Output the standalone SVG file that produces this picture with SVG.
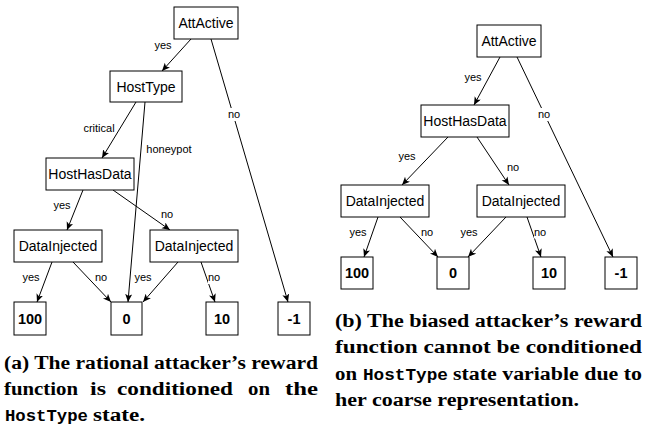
<svg xmlns="http://www.w3.org/2000/svg" width="645" height="431" viewBox="0 0 645 431">
  <style>
    .box { fill: #ffffff; stroke: #000000; stroke-width: 1; }
    .nt { font-family: "Liberation Sans", Arial, sans-serif; font-size: 14px; fill: #000; text-anchor: middle; }
    .lt { font-family: "Liberation Sans", Arial, sans-serif; font-size: 14.5px; font-weight: bold; fill: #000; text-anchor: middle; }
    .edge { stroke: #000; stroke-width: 1; fill: none; marker-end: url(#arrow); }
    .el { font-family: "Liberation Sans", Arial, sans-serif; font-size: 11px; fill: #000; text-anchor: middle; }
    .bg { fill: #ffffff; }
    .cap { font-family: "Liberation Serif", "Times New Roman", serif; font-size: 18.5px; font-weight: bold; fill: #000; }
    .mono { font-family: "Liberation Mono", "Courier New", monospace; font-size: 17px; font-weight: bold; fill: #000; }
  </style>
  <defs>
    <marker id="arrow" markerUnits="userSpaceOnUse" markerWidth="9" markerHeight="8" refX="8" refY="3.5" orient="auto">
      <path d="M0,0 L8,3.5 L0,7 L2,3.5 Z" fill="#000"/>
    </marker>
  </defs>
  <rect width="645" height="431" fill="#ffffff"/>

  <!-- (a) rational attacker tree: edges -->
  <g id="edges-a">
    <line class="edge" x1="191" y1="39" x2="162" y2="71"/>
    <line class="edge" x1="211" y1="39" x2="288" y2="302"/>
    <line class="edge" x1="136" y1="102" x2="102" y2="158"/>
    <line class="edge" x1="145" y1="102" x2="128" y2="302"/>
    <line class="edge" x1="83" y1="190" x2="67" y2="230"/>
    <line class="edge" x1="113" y1="190" x2="170" y2="230"/>
    <line class="edge" x1="52" y1="262" x2="37" y2="302"/>
    <line class="edge" x1="73" y1="262" x2="111" y2="302"/>
    <line class="edge" x1="178" y1="262" x2="143" y2="302"/>
    <line class="edge" x1="201" y1="262" x2="215" y2="302"/>
    <text class="el" x="163" y="48.5">yes</text>
    <rect class="bg" x="227" y="108" width="14" height="13"/>
    <text class="el" x="234" y="118">no</text>
    <text class="el" x="99" y="131.5">critical</text>
    <text class="el" x="169" y="152.5">honeypot</text>
    <text class="el" x="62" y="208.5">yes</text>
    <text class="el" x="167" y="218">no</text>
    <text class="el" x="31" y="281">yes</text>
    <text class="el" x="101" y="281">no</text>
    <text class="el" x="143" y="281">yes</text>
    <rect class="bg" x="208" y="271" width="13" height="13"/>
    <text class="el" x="214" y="281">no</text>
  </g>

  <!-- (a) nodes -->
  <g id="a-attactive"><rect class="box" x="174" y="7" width="64" height="32"/><text class="nt" x="206" y="28">AttActive</text></g>
  <g id="a-hosttype"><rect class="box" x="110" y="71" width="72" height="31"/><text class="nt" x="146" y="91.5">HostType</text></g>
  <g id="a-hosthasdata"><rect class="box" x="46" y="158" width="88" height="32"/><text class="nt" x="90" y="179">HostHasData</text></g>
  <g id="a-datainjected-1"><rect class="box" x="14" y="230" width="88" height="32"/><text class="nt" x="58" y="251">DataInjected</text></g>
  <g id="a-datainjected-2"><rect class="box" x="150" y="230" width="88" height="32"/><text class="nt" x="194" y="251">DataInjected</text></g>
  <g id="a-r100"><rect class="box" x="14" y="302" width="32" height="33"/><text class="lt" x="30" y="323.7">100</text></g>
  <g id="a-r0"><rect class="box" x="111" y="302" width="31" height="33"/><text class="lt" x="126.5" y="323.7">0</text></g>
  <g id="a-r10"><rect class="box" x="206" y="302" width="32" height="33"/><text class="lt" x="222" y="323.7">10</text></g>
  <g id="a-rneg1"><rect class="box" x="278" y="302" width="32" height="33"/><text class="lt" x="294" y="323.7">-1</text></g>

  <!-- (b) biased attacker tree: edges -->
  <g id="edges-b">
    <line class="edge" x1="500" y1="57" x2="474" y2="105"/>
    <line class="edge" x1="517" y1="57" x2="613" y2="257"/>
    <line class="edge" x1="448" y1="137" x2="402" y2="185"/>
    <line class="edge" x1="477" y1="137" x2="509" y2="185"/>
    <line class="edge" x1="378" y1="217" x2="364" y2="257"/>
    <line class="edge" x1="400" y1="217" x2="438" y2="257"/>
    <line class="edge" x1="506" y1="217" x2="468" y2="257"/>
    <line class="edge" x1="527" y1="217" x2="541" y2="257"/>
    <text class="el" x="473" y="81">yes</text>
    <rect class="bg" x="537" y="108" width="14" height="13"/>
    <text class="el" x="544" y="118">no</text>
    <text class="el" x="407" y="159.5">yes</text>
    <text class="el" x="513" y="170.5">no</text>
    <text class="el" x="358" y="235.5">yes</text>
    <text class="el" x="427" y="235.5">no</text>
    <text class="el" x="469" y="235.5">yes</text>
    <rect class="bg" x="534" y="225.5" width="13" height="13"/>
    <text class="el" x="540" y="235.5">no</text>
  </g>

  <!-- (b) nodes -->
  <g id="b-attactive"><rect class="box" x="477" y="25" width="64" height="32"/><text class="nt" x="509" y="46">AttActive</text></g>
  <g id="b-hosthasdata"><rect class="box" x="421" y="105" width="88" height="32"/><text class="nt" x="465" y="126">HostHasData</text></g>
  <g id="b-datainjected-1"><rect class="box" x="341" y="185" width="88" height="32"/><text class="nt" x="385" y="206">DataInjected</text></g>
  <g id="b-datainjected-2"><rect class="box" x="477" y="185" width="88" height="32"/><text class="nt" x="521" y="206">DataInjected</text></g>
  <g id="b-r100"><rect class="box" x="341" y="257" width="32" height="32"/><text class="lt" x="357" y="278.2">100</text></g>
  <g id="b-r0"><rect class="box" x="437" y="257" width="32" height="32"/><text class="lt" x="453" y="278.2">0</text></g>
  <g id="b-r10"><rect class="box" x="533" y="257" width="32" height="32"/><text class="lt" x="549" y="278.2">10</text></g>
  <g id="b-rneg1"><rect class="box" x="605" y="257" width="32" height="32"/><text class="lt" x="621" y="278.2">-1</text></g>

  <!-- sub-captions -->
  <g id="caption-a">
    <text class="cap" x="4" y="369" textLength="314" lengthAdjust="spacingAndGlyphs">(a) The rational attacker’s reward</text>
    <text class="cap" y="395">
      <tspan x="4" textLength="74" lengthAdjust="spacingAndGlyphs">function</tspan>
      <tspan x="90" textLength="16" lengthAdjust="spacingAndGlyphs">is</tspan>
      <tspan x="117" textLength="116" lengthAdjust="spacingAndGlyphs">conditioned</tspan>
      <tspan x="248" textLength="22" lengthAdjust="spacingAndGlyphs">on</tspan>
      <tspan x="285" textLength="33" lengthAdjust="spacingAndGlyphs">the</tspan>
    </text>
    <text class="mono" x="5" y="421" textLength="83" lengthAdjust="spacingAndGlyphs">HostType</text>
    <text class="cap" x="93" y="421" textLength="52" lengthAdjust="spacingAndGlyphs">state.</text>
  </g>
  <g id="caption-b">
    <text class="cap" x="335" y="327" textLength="307" lengthAdjust="spacingAndGlyphs">(b) The biased attacker’s reward</text>
    <text class="cap" x="335" y="353" textLength="307" lengthAdjust="spacingAndGlyphs">function cannot be conditioned</text>
    <text class="cap" x="335" y="380" textLength="22" lengthAdjust="spacingAndGlyphs">on</text>
    <text class="mono" x="363" y="380" textLength="85" lengthAdjust="spacingAndGlyphs">HostType</text>
    <text class="cap" x="453" y="380" textLength="189" lengthAdjust="spacingAndGlyphs">state variable due to</text>
    <text class="cap" x="335" y="406" textLength="244" lengthAdjust="spacingAndGlyphs">her coarse representation.</text>
  </g>
</svg>
